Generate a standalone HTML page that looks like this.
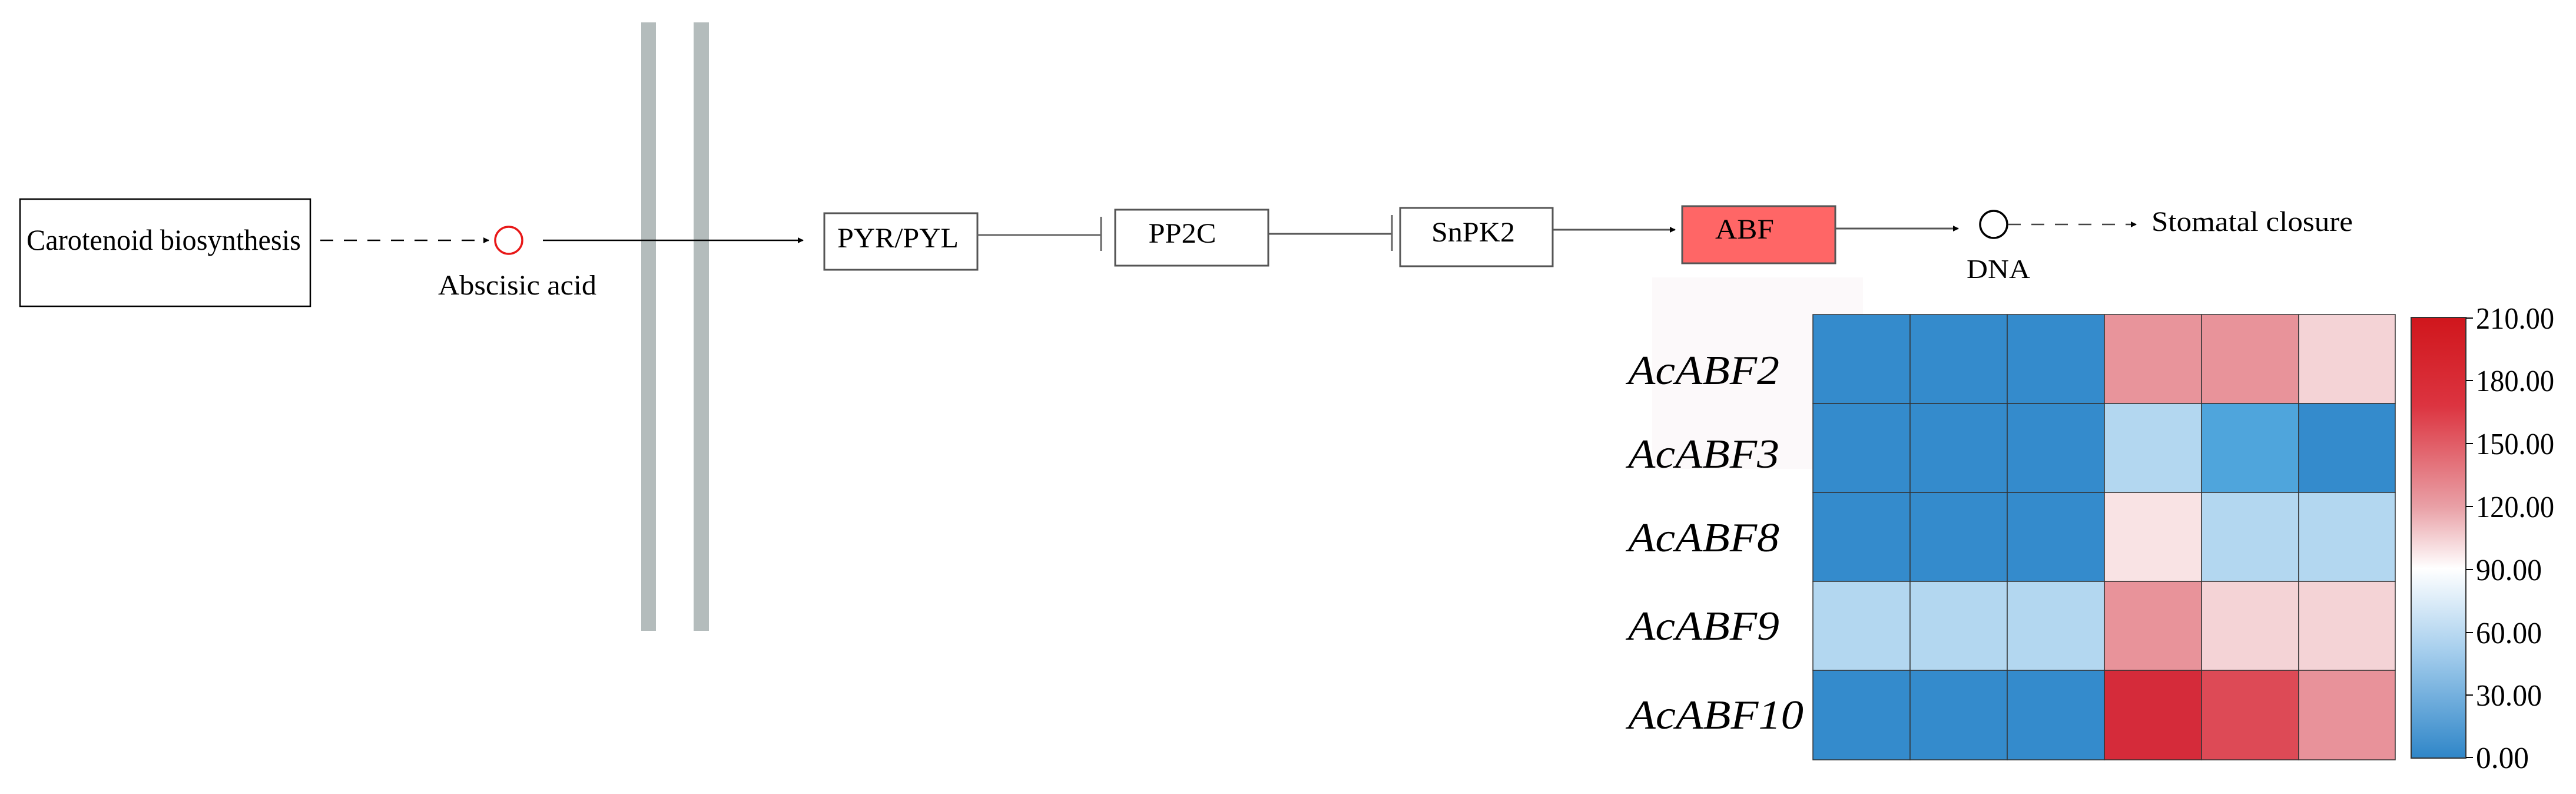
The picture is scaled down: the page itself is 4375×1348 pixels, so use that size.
<!DOCTYPE html>
<html><head><meta charset="utf-8"><style>html,body{margin:0;padding:0;background:#fff}svg{display:block}</style></head>
<body>
<svg width="4375" height="1348" viewBox="0 0 4375 1348" xmlns="http://www.w3.org/2000/svg" font-family="Liberation Serif, serif">
<defs>
<marker id="ah" markerWidth="10" markerHeight="10" refX="9" refY="5" orient="auto" markerUnits="userSpaceOnUse"><path d="M0,0 L10,5 L0,10 z" fill="#000"/></marker>
<linearGradient id="cb" x1="0" y1="0" x2="0" y2="1">
<stop offset="0" stop-color="#d0161c"/>
<stop offset="0.2" stop-color="#dc3440"/>
<stop offset="0.43" stop-color="#e9a0a6"/>
<stop offset="0.57" stop-color="#ffffff"/>
<stop offset="0.75" stop-color="#a9d0ee"/>
<stop offset="1" stop-color="#2f86c8"/>
</linearGradient>
</defs>
<!-- membrane -->
<rect x="1089" y="38" width="25" height="1033" fill="#b4bcbc"/>
<rect x="1178" y="38" width="26" height="1033" fill="#b4bcbc"/>
<!-- carotenoid -->
<rect x="34" y="338" width="493" height="182" fill="#fff" stroke="#000" stroke-width="2.5"/>
<text x="45" y="424" font-size="50" textLength="466" lengthAdjust="spacingAndGlyphs">Carotenoid biosynthesis</text>
<line x1="544" y1="408" x2="830" y2="408" stroke="#000" stroke-width="2.5" stroke-dasharray="22,18" marker-end="url(#ah)"/>
<ellipse cx="864" cy="408" rx="23" ry="23" fill="none" stroke="#e81818" stroke-width="3.5"/>
<text x="744" y="500" font-size="48" textLength="269" lengthAdjust="spacingAndGlyphs">Abscisic acid</text>
<line x1="922" y1="408" x2="1364" y2="408" stroke="#000" stroke-width="2.5" marker-end="url(#ah)"/>
<!-- PYR/PYL -->
<rect x="1400" y="362" width="260" height="96" fill="#fff" stroke="#555" stroke-width="3"/>
<text x="1525" y="420" font-size="48" text-anchor="middle" textLength="206" lengthAdjust="spacingAndGlyphs">PYR/PYL</text>
<line x1="1660" y1="399" x2="1870" y2="399" stroke="#666" stroke-width="3"/>
<line x1="1870" y1="368" x2="1870" y2="426" stroke="#666" stroke-width="3"/>
<!-- PP2C -->
<rect x="1894" y="356" width="260" height="95" fill="#fff" stroke="#555" stroke-width="3"/>
<text x="2008" y="412" font-size="48" text-anchor="middle" textLength="115" lengthAdjust="spacingAndGlyphs">PP2C</text>
<line x1="2154" y1="397" x2="2364" y2="397" stroke="#555" stroke-width="3"/>
<line x1="2364" y1="365" x2="2364" y2="426" stroke="#666" stroke-width="3"/>
<!-- SnPK2 -->
<rect x="2378" y="353" width="259" height="99" fill="#fff" stroke="#555" stroke-width="3"/>
<text x="2502" y="410" font-size="48" text-anchor="middle" textLength="142" lengthAdjust="spacingAndGlyphs">SnPK2</text>
<line x1="2637" y1="390" x2="2845" y2="390" stroke="#555" stroke-width="3" marker-end="url(#ah)"/>
<!-- ABF -->
<rect x="2857" y="350" width="260" height="97" fill="#ff6666" stroke="#555" stroke-width="3"/>
<text x="2963" y="405" font-size="48" text-anchor="middle" textLength="100" lengthAdjust="spacingAndGlyphs">ABF</text>
<line x1="3117" y1="388" x2="3326" y2="388" stroke="#555" stroke-width="3" marker-end="url(#ah)"/>
<ellipse cx="3386" cy="381" rx="23" ry="23" fill="none" stroke="#000" stroke-width="3.5"/>
<line x1="3410" y1="381" x2="3628" y2="381" stroke="#444" stroke-width="2.5" stroke-dasharray="22,18" marker-end="url(#ah)"/>
<text x="3654" y="392" font-size="48" textLength="342" lengthAdjust="spacingAndGlyphs">Stomatal closure</text>
<text x="3340" y="472" font-size="46" textLength="108" lengthAdjust="spacingAndGlyphs">DNA</text>
<!-- faint bg -->
<rect x="2806" y="471" width="358" height="325" fill="#fcf9fa"/>
<!-- heatmap -->
<g stroke="#333" stroke-width="1.5">
<rect x="3079" y="534" width="165" height="151" fill="#348bcc"/><rect x="3244" y="534" width="165" height="151" fill="#348bcc"/><rect x="3409" y="534" width="165" height="151" fill="#348bcc"/><rect x="3574" y="534" width="165" height="151" fill="#e8949b"/><rect x="3739" y="534" width="165" height="151" fill="#e8939a"/><rect x="3904" y="534" width="164" height="151" fill="#f4d3d6"/>
<rect x="3079" y="685" width="165" height="151" fill="#348bcc"/><rect x="3244" y="685" width="165" height="151" fill="#348bcc"/><rect x="3409" y="685" width="165" height="151" fill="#348bcc"/><rect x="3574" y="685" width="165" height="151" fill="#b3d7f0"/><rect x="3739" y="685" width="165" height="151" fill="#4fa5dc"/><rect x="3904" y="685" width="164" height="151" fill="#348bcc"/>
<rect x="3079" y="836" width="165" height="151" fill="#348bcc"/><rect x="3244" y="836" width="165" height="151" fill="#348bcc"/><rect x="3409" y="836" width="165" height="151" fill="#348bcc"/><rect x="3574" y="836" width="165" height="151" fill="#f9e3e4"/><rect x="3739" y="836" width="165" height="151" fill="#b3d7f0"/><rect x="3904" y="836" width="164" height="151" fill="#b3d7f0"/>
<rect x="3079" y="987" width="165" height="151" fill="#b3d7f0"/><rect x="3244" y="987" width="165" height="151" fill="#b3d7f0"/><rect x="3409" y="987" width="165" height="151" fill="#b3d7f0"/><rect x="3574" y="987" width="165" height="151" fill="#e8939a"/><rect x="3739" y="987" width="165" height="151" fill="#f4d3d6"/><rect x="3904" y="987" width="164" height="151" fill="#f4d3d6"/>
<rect x="3079" y="1138" width="165" height="152" fill="#348bcc"/><rect x="3244" y="1138" width="165" height="152" fill="#348bcc"/><rect x="3409" y="1138" width="165" height="152" fill="#348bcc"/><rect x="3574" y="1138" width="165" height="152" fill="#d52b3a"/><rect x="3739" y="1138" width="165" height="152" fill="#dd4a56"/><rect x="3904" y="1138" width="164" height="152" fill="#e8929a"/>
</g>
<g font-size="70" font-style="italic">
<text x="2765" y="652" textLength="257" lengthAdjust="spacingAndGlyphs">AcABF2</text>
<text x="2765" y="794" textLength="257" lengthAdjust="spacingAndGlyphs">AcABF3</text>
<text x="2765" y="936" textLength="257" lengthAdjust="spacingAndGlyphs">AcABF8</text>
<text x="2765" y="1086" textLength="257" lengthAdjust="spacingAndGlyphs">AcABF9</text>
<text x="2765" y="1237" textLength="298" lengthAdjust="spacingAndGlyphs">AcABF10</text>
</g>
<!-- colorbar -->
<rect x="4095" y="539" width="93" height="748" fill="url(#cb)" stroke="#333" stroke-width="2"/>
<g stroke="#000" stroke-width="2">
<line x1="4188" y1="540" x2="4200" y2="540"/><line x1="4188" y1="646" x2="4200" y2="646"/><line x1="4188" y1="753" x2="4200" y2="753"/><line x1="4188" y1="860" x2="4200" y2="860"/><line x1="4188" y1="967" x2="4200" y2="967"/><line x1="4188" y1="1074" x2="4200" y2="1074"/><line x1="4188" y1="1180" x2="4200" y2="1180"/><line x1="4188" y1="1286" x2="4200" y2="1286"/>
</g>
<g font-size="52">
<text x="4205" y="558" textLength="133" lengthAdjust="spacingAndGlyphs">210.00</text>
<text x="4205" y="664" textLength="133" lengthAdjust="spacingAndGlyphs">180.00</text>
<text x="4205" y="771" textLength="133" lengthAdjust="spacingAndGlyphs">150.00</text>
<text x="4205" y="878" textLength="133" lengthAdjust="spacingAndGlyphs">120.00</text>
<text x="4205" y="985" textLength="112" lengthAdjust="spacingAndGlyphs">90.00</text>
<text x="4205" y="1092" textLength="112" lengthAdjust="spacingAndGlyphs">60.00</text>
<text x="4205" y="1198" textLength="112" lengthAdjust="spacingAndGlyphs">30.00</text>
<text x="4205" y="1304" textLength="90" lengthAdjust="spacingAndGlyphs">0.00</text>
</g>
</svg>
</body></html>
